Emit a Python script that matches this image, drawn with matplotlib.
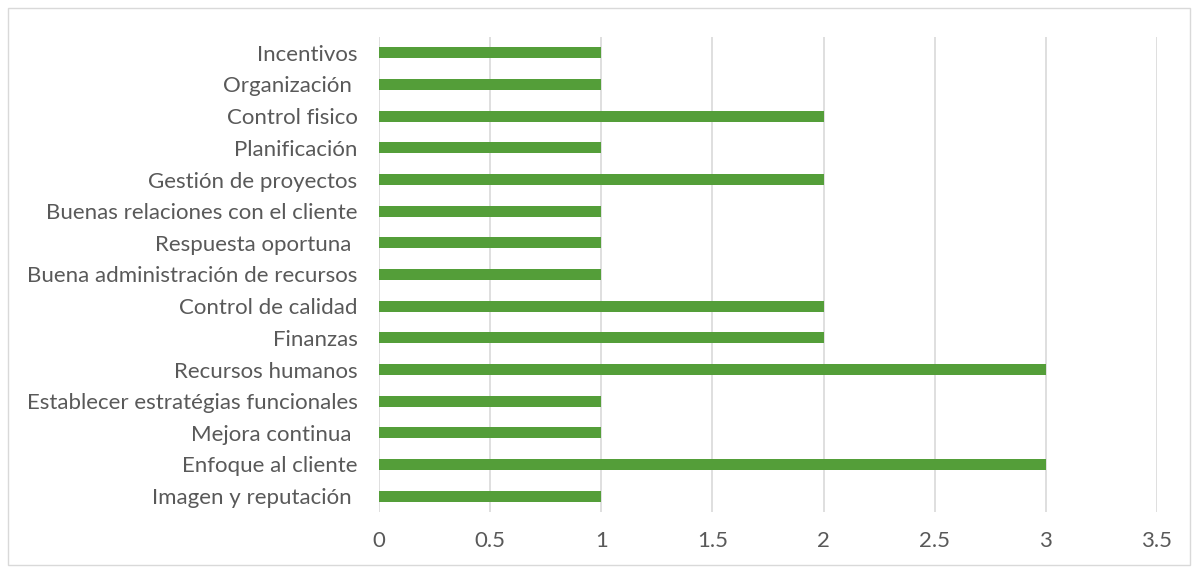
import matplotlib
matplotlib.use("Agg")
import matplotlib.pyplot as plt
from matplotlib.patches import Rectangle

categories = ["Imagen y reputación ", "Enfoque al cliente", "Mejora continua ",
              "Establecer estratégias funcionales", "Recursos humanos", "Finanzas",
              "Control de calidad", "Buena administración de recursos",
              "Respuesta oportuna ", "Buenas relaciones con el cliente",
              "Gestión de proyectos", "Planificación", "Control fisico",
              "Organización ", "Incentivos"]
values = [1, 3, 1, 1, 3, 2, 2, 1, 1, 1, 2, 1, 2, 1, 1]
xticks = [0, 0.5, 1, 1.5, 2, 2.5, 3, 3.5]
xticklabels = ["0", "0.5", "1", "1.5", "2", "2.5", "3", "3.5"]

plt.rcParams['font.family'] = ['Lato', 'DejaVu Sans']
fig = plt.figure(figsize=(11.95, 5.7), dpi=100)
ax = fig.add_axes([379/1195, 1-512/570, (1157-379)/1195, (512-37)/570])

ax.barh(range(len(categories)), values, height=0.35, color="#549E39", zorder=3)
ax.set_ylim(-0.5, len(categories)-0.5)
ax.set_xlim(0, 3.5)
ax.set_xticks(xticks)
ax.set_xticklabels(xticklabels)
ax.set_yticks(range(len(categories)))
ax.set_yticklabels(categories)
ax.grid(axis='x', color="#D9D9D9", linewidth=1.2, zorder=0)
for s in ax.spines.values():
    s.set_visible(False)
ax.tick_params(axis='both', length=0, labelsize=16, labelcolor="#595959")
ax.tick_params(axis='y', pad=15.5)
ax.tick_params(axis='x', pad=14)

fig.patches.append(Rectangle((8/1195, 5/570), 1182/1195, 557/570, transform=fig.transFigure,
                             fill=False, edgecolor="#D9D9D9", linewidth=1))
fig.savefig("out.png", dpi=100)
